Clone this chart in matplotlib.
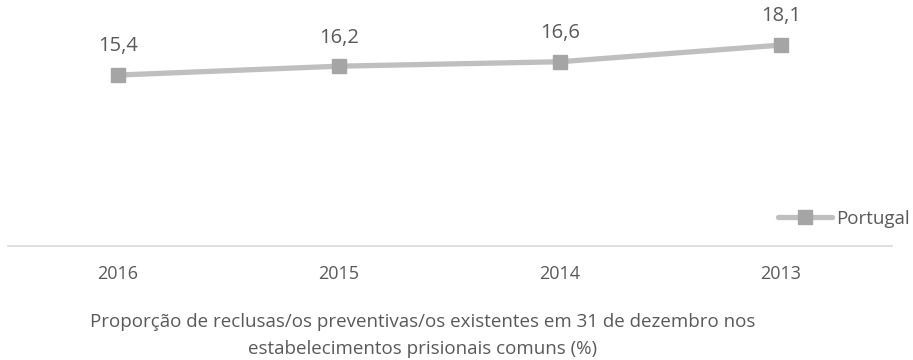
import numpy as np
import matplotlib
matplotlib.use('Agg')
from matplotlib import pyplot as plt

plt.rcParams['font.family'] = ['Open Sans', 'DejaVu Sans']

anos = ['2016', '2015', '2014', '2013']
valores = [15.4, 16.2, 16.6, 18.1]
rotulos = ['15,4', '16,2', '16,6', '18,1']
serie = 'Portugal'
titulo = [u'Proporção de reclusas/os preventivas/os existentes em 31 de dezembro nos',
          u'estabelecimentos prisionais comuns (%)']

cor_txt = '#595959'

fig = plt.figure(figsize=(9.13, 3.6), dpi=100)
ax = fig.add_axes([7.5/913., 1-246/360., 884/913., 222/360.])

x = np.arange(len(anos))
ax.plot(x, valores, '-', color='#BFBFBF', lw=3.8, solid_capstyle='round',
        marker='s', ms=10, mfc='#A5A5A5', mec='#A5A5A5', label=serie)

# rotulos de dados acima dos marcadores
for xi, v, r in zip(x, valores, rotulos):
    ax.annotate(r, (xi, v), xytext=(0, 17), textcoords='offset points',
                ha='center', va='baseline', fontsize=14.5, color=cor_txt)

ax.set_xlim(-0.5, len(anos)-0.5)
ax.set_ylim(0, 20)
ax.set_xticks(x)
ax.set_xticklabels(anos, fontsize=13, color=cor_txt)
ax.tick_params(axis='x', length=0, pad=14)
ax.set_yticks([])
for s in ['top', 'left', 'right']:
    ax.spines[s].set_visible(False)
ax.spines['bottom'].set_color('#D9D9D9')
ax.spines['bottom'].set_linewidth(1.2)

leg = fig.legend(loc='center right', bbox_to_anchor=(1.0, 1-219/360.), frameon=False,
                 fontsize=13.5, handlelength=2.9, handletextpad=0.25,
                 borderaxespad=0.0, borderpad=0.15)
for t in leg.get_texts():
    t.set_color(cor_txt)

# titulo do eixo x, duas linhas
for yl, linha in zip([327, 354], titulo):
    fig.text(423/913., 1-yl/360., linha, ha='center', va='baseline', fontsize=13.5,
             color=cor_txt)

fig.savefig('out.png', dpi=100)
